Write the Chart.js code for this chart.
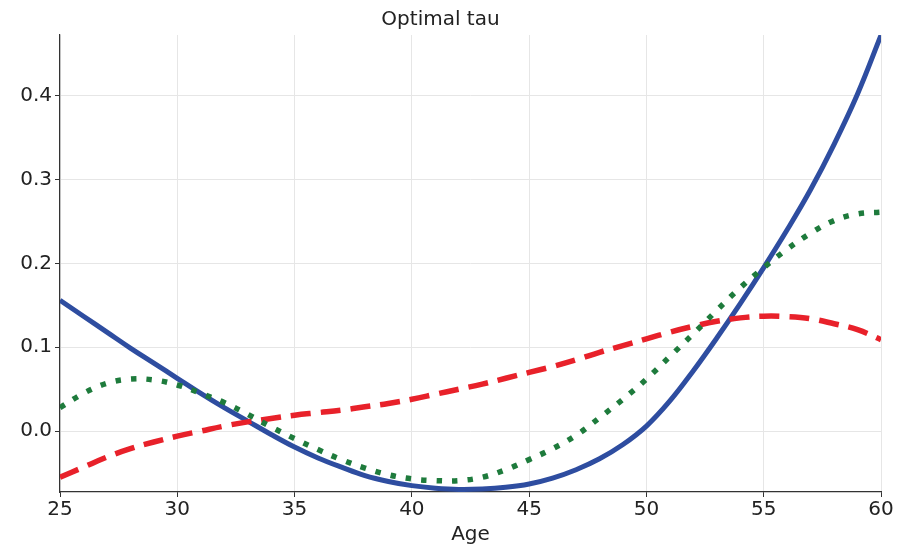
<!DOCTYPE html>
<html>
<head>
<meta charset="utf-8">
<script src="https://cdn.jsdelivr.net/npm/chart.js@4/dist/chart.umd.min.js"></script>
<style>
  html, body { margin: 0; padding: 0; background: #fff; }
  #wrap { width: 911px; height: 547px; }
</style>
</head>
<body>
<div id="wrap"><canvas id="tauChart"></canvas></div>
<script>
/* ── Données ── */
const ages = [25, 26, 27, 28, 29, 30, 31, 32, 33, 34, 35, 36, 37, 38, 39, 40, 41, 42,
  43, 44, 45, 46, 47, 48, 49, 50, 51, 52, 53, 54, 55, 56, 57, 58, 59, 60];

// trait plein (bleu)
const tauSolid = [0.156, 0.137, 0.118, 0.099, 0.081, 0.063, 0.045, 0.028, 0.012, -0.004,
  -0.019, -0.032, -0.043, -0.053, -0.060, -0.065, -0.068, -0.0695, -0.069, -0.067,
  -0.063, -0.056, -0.046, -0.033, -0.016, 0.006, 0.036, 0.072, 0.111, 0.152,
  0.195, 0.240, 0.288, 0.342, 0.402, 0.472];

// pointillés (vert)
const tauDotted = [0.028, 0.045, 0.057, 0.062, 0.061, 0.055, 0.045, 0.034, 0.020, 0.005,
  -0.009, -0.022, -0.034, -0.044, -0.052, -0.057, -0.059, -0.059, -0.055, -0.046,
  -0.034, -0.021, -0.005, 0.016, 0.038, 0.062, 0.089, 0.116, 0.144, 0.171,
  0.195, 0.217, 0.236, 0.251, 0.259, 0.261];

// tirets (rouge)
const tauDashed = [-0.055, -0.043, -0.031, -0.021, -0.013, -0.006, 0.000, 0.006, 0.011, 0.015,
  0.019, 0.022, 0.025, 0.029, 0.033, 0.038, 0.044, 0.050, 0.056, 0.063,
  0.070, 0.077, 0.085, 0.094, 0.102, 0.110, 0.118, 0.125, 0.131, 0.135,
  0.137, 0.1365, 0.134, 0.128, 0.121, 0.109];

const xTicks = [25, 30, 35, 40, 45, 50, 55, 60];
const yTicks = [0.0, 0.1, 0.2, 0.3, 0.4];

const FONT = "'DejaVu Sans', sans-serif";
const INK = "#222";

const line = (data, color, width, dash, order) => ({
  data: ages.map((a, i) => ({ x: a, y: data[i] })),
  borderColor: color,
  borderWidth: width,
  borderDash: dash,
  borderCapStyle: "butt",
  pointRadius: 0,
  tension: 0.4,
  fill: false,
  clip: 0,
  order,
});

new Chart(document.getElementById("tauChart"), {
  type: "line",
  data: {
    datasets: [
      line(tauDotted, "#1e7b3c", 5.5, [5.5, 10], 0),
      line(tauDashed, "#e8212a", 5.5, [20, 10], 1),
      line(tauSolid, "#2e4da0", 5, [], 2),
    ],
  },
  options: {
    responsive: true,
    maintainAspectRatio: false,
    animation: false,
    layout: { padding: { left: 0, right: 30, top: 0, bottom: 0 } },
    plugins: {
      legend: { display: false },
      tooltip: { enabled: false },
      title: {
        display: true,
        text: "Optimal tau",
        color: INK,
        font: { family: FONT, size: 20, weight: "normal" },
        padding: { top: 8, bottom: 3 },
      },
    },
    scales: {
      x: {
        type: "linear",
        min: 25,
        max: 60,
        afterBuildTicks: (s) => { s.ticks = xTicks.map((v) => ({ value: v })); },
        afterFit: (s) => { s.height = 55; },
        ticks: { color: INK, font: { family: FONT, size: 20 }, padding: 1, maxRotation: 0 },
        grid: { color: "#e6e6e6", tickColor: "#333", tickLength: 5 },
        border: { color: "#333", width: 1.2 },
        title: {
          display: true,
          text: "Age",
          color: INK,
          font: { family: FONT, size: 20 },
          padding: { top: 0, bottom: 0 },
        },
      },
      y: {
        min: -0.0726,
        max: 0.4723,
        afterBuildTicks: (s) => { s.ticks = yTicks.map((v) => ({ value: v })); },
        afterFit: (s) => { s.width = 60; },
        ticks: {
          color: INK,
          font: { family: FONT, size: 20 },
          padding: 3,
          callback: (v) => v.toFixed(1),
        },
        grid: { color: "#e6e6e6", tickColor: "#333", tickLength: 5 },
        border: { color: "#333", width: 1.2 },
      },
    },
  },
});
</script>
</body>
</html>
